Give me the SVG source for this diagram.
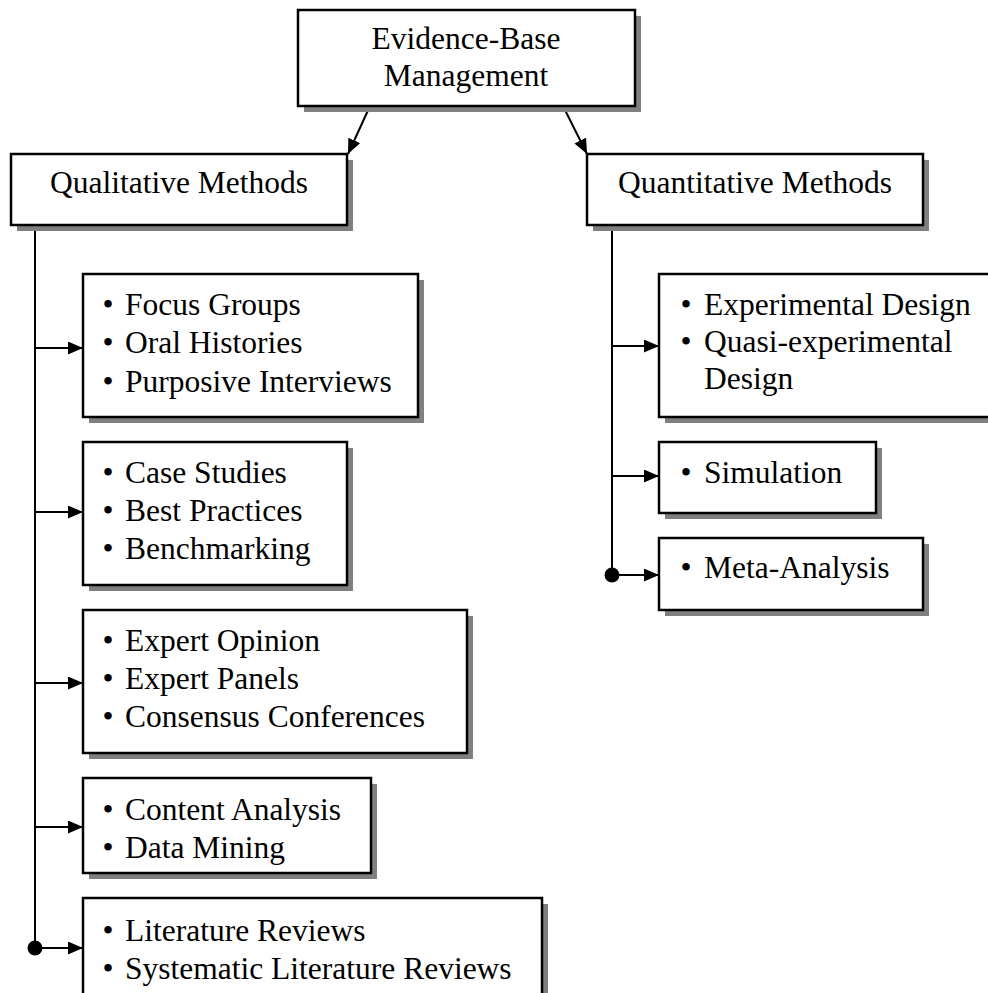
<svg xmlns="http://www.w3.org/2000/svg" width="988" height="993" viewBox="0 0 988 993">
<style>
.box{fill:#ffffff;stroke:#000000;stroke-width:2.5}
.sh{fill:#808080}
.t{font-family:"Liberation Serif","Times New Roman",serif;font-size:31.5px;fill:#000000}
.c{text-anchor:middle}
.ln{stroke:#000000;stroke-width:2;fill:none}
</style>
<defs>
<marker id="ah" markerUnits="userSpaceOnUse" markerWidth="16" markerHeight="14" refX="15" refY="6.5" orient="auto">
<path d="M0,0 L15,6.5 L0,13 z" fill="#000000"/>
</marker>
</defs>
<rect width="988" height="993" fill="#ffffff"/>
<g id="connectors">
<line class="ln" x1="370" y1="106" x2="348" y2="154" marker-end="url(#ah)"/>
<line class="ln" x1="563" y1="106" x2="587" y2="154" marker-end="url(#ah)"/>
<line class="ln" x1="35" y1="225" x2="35" y2="948"/>
<line class="ln" x1="35" y1="348" x2="83" y2="348" marker-end="url(#ah)"/>
<line class="ln" x1="35" y1="512" x2="83" y2="512" marker-end="url(#ah)"/>
<line class="ln" x1="35" y1="683" x2="83" y2="683" marker-end="url(#ah)"/>
<line class="ln" x1="35" y1="827" x2="83" y2="827" marker-end="url(#ah)"/>
<line class="ln" x1="35" y1="948" x2="83" y2="948" marker-end="url(#ah)"/>
<circle cx="35" cy="948" r="7.5" fill="#000000"/>
<line class="ln" x1="612" y1="225" x2="612" y2="575"/>
<line class="ln" x1="612" y1="346" x2="659" y2="346" marker-end="url(#ah)"/>
<line class="ln" x1="612" y1="476" x2="659" y2="476" marker-end="url(#ah)"/>
<line class="ln" x1="612" y1="575" x2="659" y2="575" marker-end="url(#ah)"/>
<circle cx="612" cy="575" r="7.5" fill="#000000"/>
</g>
<g id="ebm">
<rect class="sh" x="304" y="16" width="337" height="96"/>
<rect class="box" x="298" y="10" width="337" height="96"/>
<text class="t c" x="466" y="49">Evidence-Base</text>
<text class="t c" x="466" y="86">Management</text>
</g>
<g id="qual">
<rect class="sh" x="17" y="160" width="336" height="71"/>
<rect class="box" x="11" y="154" width="336" height="71"/>
<text class="t c" x="179" y="193">Qualitative Methods</text>
</g>
<g id="quant">
<rect class="sh" x="593" y="160" width="336" height="71"/>
<rect class="box" x="587" y="154" width="336" height="71"/>
<text class="t c" x="755" y="193">Quantitative Methods</text>
</g>
<g id="focus">
<rect class="sh" x="89" y="280" width="335" height="143"/>
<rect class="box" x="83" y="274" width="335" height="143"/>
<text class="t" x="102.5" y="315">•<tspan x="125">Focus Groups</tspan></text>
<text class="t" x="102.5" y="353">•<tspan x="125">Oral Histories</tspan></text>
<text class="t" x="102.5" y="392">•<tspan x="125">Purposive Interviews</tspan></text>
</g>
<g id="case">
<rect class="sh" x="89" y="448" width="264" height="143"/>
<rect class="box" x="83" y="442" width="264" height="143"/>
<text class="t" x="102.5" y="483">•<tspan x="125">Case Studies</tspan></text>
<text class="t" x="102.5" y="521">•<tspan x="125">Best Practices</tspan></text>
<text class="t" x="102.5" y="559">•<tspan x="125">Benchmarking</tspan></text>
</g>
<g id="expert">
<rect class="sh" x="89" y="616" width="384" height="143"/>
<rect class="box" x="83" y="610" width="384" height="143"/>
<text class="t" x="102.5" y="651">•<tspan x="125">Expert Opinion</tspan></text>
<text class="t" x="102.5" y="689">•<tspan x="125">Expert Panels</tspan></text>
<text class="t" x="102.5" y="727">•<tspan x="125">Consensus Conferences</tspan></text>
</g>
<g id="content">
<rect class="sh" x="89" y="784" width="288" height="95"/>
<rect class="box" x="83" y="778" width="288" height="95"/>
<text class="t" x="102.5" y="820">•<tspan x="125">Content Analysis</tspan></text>
<text class="t" x="102.5" y="858">•<tspan x="125">Data Mining</tspan></text>
</g>
<g id="literature">
<rect class="sh" x="89" y="904" width="459" height="110"/>
<rect class="box" x="83" y="898" width="459" height="110"/>
<text class="t" x="102.5" y="941">•<tspan x="125">Literature Reviews</tspan></text>
<text class="t" x="102.5" y="979">•<tspan x="125">Systematic Literature Reviews</tspan></text>
</g>
<g id="experimental">
<rect class="sh" x="665" y="280" width="340" height="143"/>
<rect class="box" x="659" y="274" width="340" height="143"/>
<text class="t" x="680.5" y="315">•<tspan x="704">Experimental Design</tspan></text>
<text class="t" x="680.5" y="352">•<tspan x="704">Quasi-experimental</tspan></text>
<text class="t" x="704" y="389">Design</text>
</g>
<g id="simulation">
<rect class="sh" x="665" y="448" width="217" height="71"/>
<rect class="box" x="659" y="442" width="217" height="71"/>
<text class="t" x="680.5" y="483">•<tspan x="704">Simulation</tspan></text>
</g>
<g id="meta">
<rect class="sh" x="665" y="544" width="264" height="72"/>
<rect class="box" x="659" y="538" width="264" height="72"/>
<text class="t" x="680.5" y="578">•<tspan x="704">Meta-Analysis</tspan></text>
</g>
</svg>
